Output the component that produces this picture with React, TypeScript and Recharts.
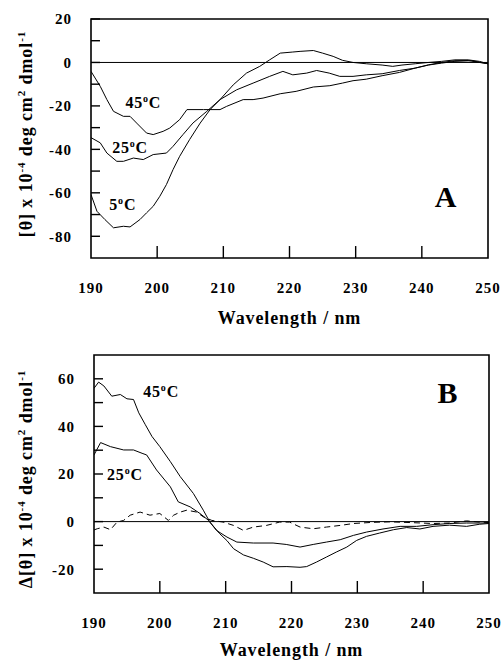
import React from 'react';
import { LineChart, Line, XAxis, YAxis, ReferenceLine, ReferenceArea, ReferenceDot } from 'recharts';

const FONT = "'Liberation Serif', 'Times New Roman', Times, serif";

// ---- shared axis ----
const xTicks = [190, 200, 210, 220, 230, 240, 250];
const yTicksA = [-80, -70, -60, -50, -40, -30, -20, -10, 0, 10, 20];
const yTicksB = [-20, -10, 0, 10, 20, 30, 40, 50, 60];

// ---- panel A: CD spectra ----
const wlA5 = [190, 190.9, 192.1, 193.4, 194.9, 195.9, 197.4, 198.4, 199.4, 200.4, 201.4, 202.4, 203.4, 204.9, 206.5, 208, 209.5, 211.5, 213.5, 215.5, 217, 218.6, 220.5, 221.6, 223.6, 225, 226.6, 228, 229.6, 231.6, 234, 235.6, 237, 239, 241, 243, 245, 247, 248.7, 250];
const valA5 = [-60.8, -68.5, -72.3, -76.1, -75.4, -75.7, -72.3, -69.2, -66.2, -61.6, -56.2, -49.3, -43.2, -35.5, -27.9, -21.7, -17.1, -10.3, -4.9, -1.8, 1.2, 4.3, 4.8, 5.1, 5.5, 4.3, 2.8, 1, 0, -0.6, -1.2, -1.8, -1.2, -0.6, 0, 0.5, 1.2, 1.2, 0.5, -0.6];

const wlA25 = [190, 191.4, 192.4, 193.9, 194.9, 196.4, 197.9, 199.4, 201.4, 202.4, 203.9, 205.4, 207.5, 209.5, 212, 214.5, 217, 219, 220.5, 222.6, 224.1, 226, 227.6, 229.6, 231.6, 234, 236.6, 239, 241, 243, 245, 247.5, 250];
const valA25 = [-34.6, -37, -41.7, -45.5, -45.5, -44, -44.7, -42.4, -41.7, -38.6, -33.2, -27.9, -22.5, -17.1, -12.6, -9.5, -6.4, -4.1, -5.7, -4.9, -3.7, -4.9, -6.4, -6.4, -5.7, -5.2, -3.7, -2.6, -1.2, -0.3, 0.5, 0.8, -0.6];

const wlA45 = [190, 191.4, 192.4, 193.4, 194.9, 195.9, 196.9, 198.4, 199.4, 200.9, 201.9, 203.4, 204.5, 207, 209.5, 210.5, 213, 214.5, 216, 218.6, 221, 223.6, 226.1, 228, 229.6, 231.6, 234, 236.6, 239, 241, 243, 245, 247, 248.7, 250];
const valA45 = [-4.1, -11, -17.1, -22.5, -24.8, -24.8, -27.9, -32.5, -33.2, -31.7, -30.2, -26.3, -21.7, -21.7, -21.7, -20.2, -17.1, -17.1, -16.4, -14.4, -13.3, -11.3, -10.7, -9.5, -8.4, -7.7, -6.1, -4.6, -2.6, -1.1, 0, 0.8, 0.9, 0, -0.6];

// ---- panel B: difference spectra ----
const wlB45 = [190, 190.7, 191.5, 192.7, 194, 195, 196, 196.8, 197.8, 198.8, 200, 201.6, 203.1, 205.1, 206.6, 207.6, 209.1, 210.2, 211.2, 212.7, 214.2, 215.7, 217.2, 219.3, 221.3, 222.3, 223.8, 225.3, 226.8, 228.4, 229.9, 231.4, 233.4, 235.5, 237.5, 239.5, 241.5, 244, 246.6, 248.6, 250];
const valB45 = [56, 58.6, 57, 52.7, 53.4, 51.6, 51.3, 45.7, 40.7, 35.8, 31.5, 25.2, 18.9, 11.8, 4.8, -0.2, -5.1, -8, -11.4, -14, -15.4, -17, -19, -18.9, -19.2, -18.9, -17, -14.9, -12.8, -10.7, -7.9, -6.2, -4.8, -3.4, -2.5, -3.1, -2, -1.5, -2, -1.1, -0.8];

const wlB25 = [190, 191, 192.5, 194.5, 196, 197.3, 198, 199.5, 201.6, 202.8, 204.6, 206.1, 207.4, 208.6, 210.2, 211.7, 214.2, 217.2, 219.2, 221.3, 223.3, 225.3, 227.4, 229.4, 231.4, 233.9, 236.5, 239, 241.5, 244, 246.6, 250];
const valB25 = [28, 33.2, 31.5, 30.1, 30.1, 28.7, 28, 21.7, 14.6, 8.3, 6.2, 3.4, 0.5, -3.7, -6.5, -8.6, -9, -9, -9.6, -10.7, -9.6, -8.6, -7.6, -5.8, -4.4, -3.1, -2, -2, -1.3, -0.8, -0.6, -0.6];

const wlB5 = [190, 190.5, 191.5, 192.5, 193.5, 194.5, 195.5, 197, 198.5, 200, 201.3, 202.1, 203.1, 204.1, 205.6, 206.6, 207.9, 209.6, 211.2, 212.7, 214.2, 216.2, 218.2, 219.7, 221.3, 223.3, 225.3, 227.4, 229.4, 232.4, 235, 238, 241.5, 244, 246.6, 248.5, 250];
const valB5 = [-3.5, -3, -2.3, -3.4, -0.2, 0.5, 2.7, 4, 2.7, 3.4, 0.5, 2.7, 4, 4.8, 4, 2, 0.5, -0.2, -1.6, -3.7, -2.3, -1.6, -0.2, -0.2, -2.3, -3, -2.3, -1.6, -0.8, -0.3, -0.1, -0.4, -0.8, -0.6, 0.3, -0.2, -0.4];

// ---- annotations (data coordinates) ----
const tempLabelsA = [
  { t: '45', x: 197.9, y: -18.5 },
  { t: '25', x: 195.9, y: -39.1 },
  { t: '5', x: 194.8, y: -65.2 },
];
const tempLabelsB = [
  { t: '45', x: 200.2, y: 54.5 },
  { t: '25', x: 194.7, y: 20 },
];
const panelA = { t: 'A', x: 243.6, y: -61.7 };
const panelB = { t: 'B', x: 243.7, y: 54.2 };

const zip = (xs: number[], ys: number[]) => xs.map((x, i) => ({ x, y: ys[i] }));

const X_MARGIN = 24;
const Y_MARGIN = 19;

const XTick = (p: any) => (
  <text x={p.x} y={p.y} dy="0.71em" textAnchor="middle" fontFamily={FONT} fontWeight={700} fontSize={15} letterSpacing={1} fill="#000">
    {p.payload.value}
  </text>
);

const YTick = (p: any) => {
  const v = p.payload.value;
  if (v % 20 !== 0) return <g />;
  return (
    <text x={p.x} y={p.y} dy="0.355em" textAnchor="end" fontFamily={FONT} fontWeight={700} fontSize={15} letterSpacing={1} fill="#000">
      {v}
    </text>
  );
};

const xTitle = (dy: number) => (props: any) => {
  const vb = props.viewBox || {};
  return (
    <text x={vb.x + vb.width / 2} y={vb.y + dy} textAnchor="middle" fontFamily={FONT} fontWeight={700} fontSize={18} letterSpacing={0.9} fill="#000">
      Wavelength / nm
    </text>
  );
};

const yTitle = (prefix: string, shift: number) => (props: any) => {
  const vb = props.viewBox || {};
  const cx = 32;
  const cy = vb.y + vb.height / 2 + shift;
  return (
    <text x={cx} y={cy} transform={`rotate(-90 ${cx} ${cy})`} textAnchor="middle" fontFamily={FONT} fontWeight={700} fontSize={18} letterSpacing={0.9} fill="#000">
      {prefix + ' x 10'}
      <tspan dy={-7} fontSize={11}>-4</tspan>
      <tspan dy={7}>{' deg cm'}</tspan>
      <tspan dy={-7} fontSize={11}>2</tspan>
      <tspan dy={7}>{' dmol'}</tspan>
      <tspan dy={-7} fontSize={11}>-1</tspan>
    </text>
  );
};

const tempShape = (t: string) => (p: any) => (
  <text x={p.cx} y={p.cy} dy={5.5} textAnchor="middle" fontFamily={FONT} fontWeight={700} fontSize={16} letterSpacing={0.8} fill="#000">
    {t}
    <tspan dy={-6} fontSize={10}>o</tspan>
    <tspan dy={6}>C</tspan>
  </text>
);

const panelShape = (t: string) => (p: any) => (
  <text x={p.cx} y={p.cy} dy={10.5} textAnchor="middle" fontFamily={FONT} fontWeight={700} fontSize={30} fill="#000">
    {t}
  </text>
);

// inward tick marks drawn as reference segments (lengths in data units of each panel)
const tickMarks = (yTicks: number[], xMin: number, yMin: number, xLen: number, yLen: number) => [
  ...xTicks.filter((t) => t > 190 && t < 250).map((t) => (
    <ReferenceLine key={'xt' + t} segment={[{ x: t, y: yMin }, { x: t, y: yMin + yLen }]} stroke="#000" strokeWidth={1.4} />
  )),
  ...yTicks.map((t) => (
    <ReferenceLine key={'yt' + t} segment={[{ x: xMin, y: t }, { x: xMin + xLen, y: t }]} stroke="#000" strokeWidth={1.4} />
  )),
];

export default function App() {
  return (
    <div style={{ position: 'absolute', left: 0, top: 0, width: 504, height: 660, background: '#fff' }}>
      <div style={{ position: 'absolute', left: 0, top: 0 }}>
        <LineChart width={504} height={330} margin={{ top: 19, right: 16, bottom: 32, left: 0 }}>
          <XAxis
            type="number"
            dataKey="x"
            domain={[190, 250]}
            ticks={xTicks}
            allowDataOverflow
            height={40}
            tickSize={0}
            tickMargin={X_MARGIN}
            tickLine={false}
            axisLine={false}
            tick={<XTick />}
            label={{ content: xTitle(65.5) }}
          />
          <YAxis
            type="number"
            dataKey="y"
            domain={[-90, 20]}
            ticks={yTicksA}
            allowDataOverflow
            width={91}
            tickSize={0}
            tickMargin={Y_MARGIN}
            tickLine={false}
            axisLine={false}
            tick={<YTick />}
            label={{ content: yTitle('[θ]', -4.5) }}
          />
          <ReferenceArea x1={190} x2={250} y1={-90} y2={20} fill="none" stroke="#000" strokeWidth={1.6} />
          {tickMarks(yTicksA, 190, -90, 1.36, 5.5)}
          <ReferenceLine y={0} stroke="#000" strokeWidth={1} />
          <Line data={zip(wlA5, valA5)} dataKey="y" type="linear" stroke="#000" strokeWidth={1} dot={false} isAnimationActive={false} />
          <Line data={zip(wlA25, valA25)} dataKey="y" type="linear" stroke="#000" strokeWidth={1} dot={false} isAnimationActive={false} />
          <Line data={zip(wlA45, valA45)} dataKey="y" type="linear" stroke="#000" strokeWidth={1} dot={false} isAnimationActive={false} />
          {tempLabelsA.map((l) => (
            <ReferenceDot key={l.t} x={l.x} y={l.y} r={0} shape={tempShape(l.t)} />
          ))}
          <ReferenceDot x={panelA.x} y={panelA.y} r={0} shape={panelShape(panelA.t)} />
        </LineChart>
      </div>
      <div style={{ position: 'absolute', left: 0, top: 330 }}>
        <LineChart width={504} height={330} margin={{ top: 25, right: 15, bottom: 27, left: 0 }}>
          <XAxis
            type="number"
            dataKey="x"
            domain={[190, 250]}
            ticks={xTicks}
            allowDataOverflow
            height={40}
            tickSize={0}
            tickMargin={X_MARGIN}
            tickLine={false}
            axisLine={false}
            tick={<XTick />}
            label={{ content: xTitle(63) }}
          />
          <YAxis
            type="number"
            dataKey="y"
            domain={[-30, 70]}
            ticks={yTicksB}
            allowDataOverflow
            width={94}
            tickSize={0}
            tickMargin={Y_MARGIN}
            tickLine={false}
            axisLine={false}
            tick={<YTick />}
            label={{ content: yTitle('Δ[θ]', 5) }}
          />
          <ReferenceArea x1={190} x2={250} y1={-30} y2={70} fill="none" stroke="#000" strokeWidth={1.6} />
          {tickMarks(yTicksB, 190, -30, 1.37, 5.05)}
          <ReferenceLine y={0} stroke="#000" strokeWidth={1} />
          <Line data={zip(wlB45, valB45)} dataKey="y" type="linear" stroke="#000" strokeWidth={1} dot={false} isAnimationActive={false} />
          <Line data={zip(wlB25, valB25)} dataKey="y" type="linear" stroke="#000" strokeWidth={1} dot={false} isAnimationActive={false} />
          <Line data={zip(wlB5, valB5)} dataKey="y" type="linear" stroke="#000" strokeWidth={1} strokeDasharray="6 4" dot={false} isAnimationActive={false} />
          {tempLabelsB.map((l) => (
            <ReferenceDot key={l.t} x={l.x} y={l.y} r={0} shape={tempShape(l.t)} />
          ))}
          <ReferenceDot x={panelB.x} y={panelB.y} r={0} shape={panelShape(panelB.t)} />
        </LineChart>
      </div>
    </div>
  );
}
